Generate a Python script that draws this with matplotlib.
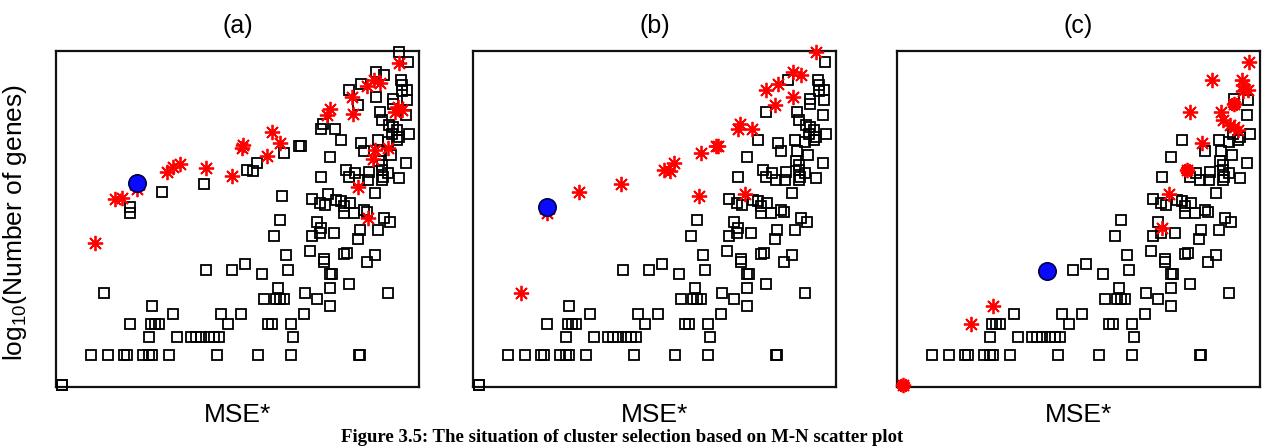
import numpy as np
import matplotlib
matplotlib.use("Agg")
import matplotlib.pyplot as plt

plt.rcParams['font.family'] = ['Liberation Sans', 'DejaVu Sans']
plt.rcParams['mathtext.fontset'] = 'custom'
plt.rcParams['mathtext.rm'] = 'Liberation Sans'
plt.rcParams['mathtext.it'] = 'Liberation Sans'
plt.rcParams['mathtext.default'] = 'regular'

# ---------------- data: MSE* (x) and log10(number of genes) (y) ----------------
# clusters shown as squares in every panel
base_x = [0.0, 0.0,
          0.081, 0.130, 0.174, 0.181, 0.227, 0.244, 0.253, 0.300, 0.435, 0.549, 0.640, 0.832, 0.836,
          0.244, 0.323, 0.360, 0.374, 0.388, 0.412, 0.426, 0.439, 0.646,
          0.190, 0.249, 0.260, 0.272, 0.465, 0.577, 0.587, 0.640,
          0.312, 0.446, 0.501, 0.677,
          0.251, 0.751,
          0.567, 0.598, 0.610, 0.622, 0.714,
          0.682, 0.914,
          0.604, 0.751,
          0.805,
          0.561, 0.751, 0.755,
          0.402, 0.475, 0.633,
          0.512,
          0.733, 0.734, 0.854,
          0.628, 0.789, 0.798, 0.877,
          0.696, 0.829, 0.593, 0.700, 0.722, 0.763, 0.835, 0.884, 0.725,
          0.714, 0.919, 0.610, 0.902,
          0.791, 0.818, 0.846, 0.854,
          0.737, 0.789, 0.722, 0.807, 0.782, 0.768, 0.700, 0.877,
          0.726, 0.795, 0.804, 0.821, 0.831, 0.857, 0.861, 0.896, 0.900, 0.914, 0.896, 0.945,
          0.750, 0.921, 0.889, 0.964, 0.896,
          0.847, 0.891,
          0.782, 0.838, 0.886, 0.912, 0.938,
          0.924, 0.973, 0.944, 0.938, 0.928, 0.916, 0.896,
          0.805, 0.891, 0.964,
          0.926, 0.926, 0.967,
          0.952, 0.966, 0.953, 0.950, 0.865,
          0.968]
base_y = [0.0, 0.0,
          0.301, 0.301, 0.301, 0.301, 0.301, 0.301, 0.301, 0.301, 0.301, 0.301, 0.301, 0.301, 0.301,
          0.477, 0.477, 0.477, 0.477, 0.477, 0.477, 0.477, 0.477, 0.477,
          0.602, 0.602, 0.602, 0.602, 0.602, 0.602, 0.602, 0.602,
          0.699, 0.699, 0.699, 0.699,
          0.778, 0.778,
          0.845, 0.845, 0.845, 0.845, 0.845,
          0.903, 0.903,
          0.954, 0.954,
          1.000,
          1.095, 1.095, 1.095,
          1.134, 1.134, 1.134,
          1.190,
          1.216, 1.239, 1.216,
          1.281, 1.291, 1.297, 1.281,
          1.324, 1.435, 1.467, 1.467, 1.493, 1.493, 1.526, 1.526, 1.542,
          1.601, 1.601, 1.624, 1.641,
          1.690, 1.690, 1.722, 1.706,
          1.771, 1.761, 1.788, 1.794, 1.810, 1.820, 1.830, 1.886,
          2.049, 2.114, 2.049, 2.082, 2.016, 2.016, 2.098, 2.114, 2.049, 2.082, 2.016, 2.033,
          2.239, 2.261, 2.206, 2.180, 2.163,
          2.301, 2.301,
          2.408, 2.386, 2.408, 2.392, 2.408,
          2.474, 2.474, 2.441, 2.507, 2.539, 2.556, 2.605,
          2.686, 2.686, 2.660,
          2.761, 2.817, 2.807,
          2.892, 2.899, 2.948, 3.003, 2.997,
          3.176]

# panel (b): selected clusters (asterisks) and current cluster (circle)
b_star_x = [0.118, 0.191, 0.281, 0.398, 0.517, 0.535, 0.547, 0.621, 0.663, 0.669, 0.615,
            0.745, 0.726, 0.731, 0.766, 0.805, 0.829, 0.838, 0.880, 0.880, 0.903, 0.945]
b_star_y = [0.905, 1.690, 1.895, 1.977, 2.114, 2.108, 2.180, 2.278, 2.356, 2.356, 1.860,
            1.876, 2.516, 2.572, 2.516, 2.899, 2.752, 2.964, 2.833, 3.078, 3.046, 3.275]
b_circle_x = [0.191]
b_circle_y = [1.755]

# panel (a)
a_star_x = [0.093, 0.149, 0.168, 0.210, 0.294, 0.312, 0.331, 0.404, 0.477, 0.503, 0.506,
            0.573, 0.587, 0.610, 0.944, 0.873, 0.853, 0.890, 0.811, 0.815, 0.750, 0.743,
            0.941, 0.932, 0.951, 0.876, 0.871, 0.913, 0.829, 0.857]
a_star_y = [1.394, 1.831, 1.838, 1.930, 2.101, 2.144, 2.177, 2.138, 2.061, 2.334, 2.357,
            2.252, 2.489, 2.384, 3.169, 2.998, 2.939, 2.972, 2.834, 2.663, 2.719, 2.653,
            2.735, 2.686, 2.702, 2.308, 2.226, 2.334, 1.953, 1.644]
a_circle_x = [0.210]
a_circle_y = [1.989]

# panel (c)
c_star_x = [0.0, 0.189, 0.251, 0.725, 0.745, 0.795, 0.838, 0.805, 0.865, 0.968, 0.950,
            0.953, 0.966, 0.952, 0.926, 0.891, 0.896, 0.916, 0.928, 0.938]
c_star_y = [0.0, 0.602, 0.778, 1.542, 1.876, 2.114, 2.386, 2.686, 2.997, 3.176, 3.003,
            2.948, 2.899, 2.892, 2.761, 2.686, 2.605, 2.556, 2.539, 2.507]
c_blob_x = [0.0, 0.795, 0.926]
c_blob_y = [0.0, 2.114, 2.761]
c_circle_x = [0.404]
c_circle_y = [1.127]

panel_titles = ['(a)', '(b)', '(c)']
x_label = 'MSE*'
y_label = r'log$_{10}$(Number of genes)'
caption = 'Figure 3.5: The situation of cluster selection based on M-N scatter plot'

XLIM = (-0.017, 1.0)
YLIM = (-0.016, 3.28)

# ---------------- figure ----------------
W, H = 1266, 448
fig = plt.figure(figsize=(W / 100, H / 100), dpi=100)

lefts = [56 / W, 473 / W, 897 / W]
ax_w = 363 / W
ax_b = 1 - 387 / H
ax_h = (387 - 51.5) / H

panels = [
    dict(sq_x=base_x + b_star_x + b_circle_x, sq_y=base_y + b_star_y + b_circle_y,
         st_x=a_star_x, st_y=a_star_y, bl_x=[], bl_y=[], ci_x=a_circle_x, ci_y=a_circle_y),
    dict(sq_x=base_x, sq_y=base_y,
         st_x=b_star_x, st_y=b_star_y, bl_x=[], bl_y=[], ci_x=b_circle_x, ci_y=b_circle_y),
    dict(sq_x=base_x, sq_y=base_y,
         st_x=c_star_x, st_y=c_star_y, bl_x=c_blob_x, bl_y=c_blob_y, ci_x=c_circle_x, ci_y=c_circle_y),
]

px_per_x = 363 / (XLIM[1] - XLIM[0])
px_per_y = 335.5 / (YLIM[1] - YLIM[0])

for i, p in enumerate(panels):
    ax = fig.add_axes([lefts[i], ax_b, ax_w, ax_h])
    sx = np.array(p['sq_x']); sy = np.array(p['sq_y'])
    hx = np.array(p['st_x'] + p['ci_x']); hy = np.array(p['st_y'] + p['ci_y'])
    # clusters that are highlighted are not drawn as squares
    d = np.sqrt(((sx[:, None] - hx[None, :]) * px_per_x) ** 2 +
                ((sy[:, None] - hy[None, :]) * px_per_y) ** 2)
    keep = d.min(axis=1) > 4.5
    ax.plot(sx[keep], sy[keep], linestyle='none', marker='s', ms=6.7, mew=1.3,
            mfc='none', mec='black', zorder=3, clip_on=False)
    ax.plot(p['st_x'], p['st_y'], linestyle='none', marker=(8, 2, 0), ms=11, mew=1.3,
            color='#ff0000', zorder=4, clip_on=False)
    if p['bl_x']:
        ax.plot(p['bl_x'], p['bl_y'], linestyle='none', marker='o', ms=6, mew=0,
                color='#ff0000', zorder=4, clip_on=False)
        ax.plot(p['bl_x'], p['bl_y'], linestyle='none', marker=(8, 2, 22.5), ms=10, mew=1.3,
                color='#ff0000', zorder=4, clip_on=False)
    ax.plot(p['ci_x'], p['ci_y'], linestyle='none', marker='o', ms=12.5, mew=1.2,
            mfc='#0a0aff', mec='#00004a', zorder=5, clip_on=False)
    ax.set_xlim(*XLIM)
    ax.set_ylim(*YLIM)
    ax.set_xticks([]); ax.set_yticks([])
    for s in ax.spines.values():
        s.set_linewidth(1.6)
        s.set_color('#111111')
    cx = lefts[i] + ax_w / 2
    fig.text(cx, 1 - 26 / H, panel_titles[i], ha='center', va='center', fontsize=18)
    fig.text(cx, 1 - 415 / H, x_label, ha='center', va='center', fontsize=19)

fig.text(15 / W, 1 - 222 / H, y_label, rotation=90, ha='center', va='center', fontsize=19)
fig.text(622 / W, 2 / H, caption, ha='center', va='bottom', fontsize=13.5,
         fontweight='bold', family=['Liberation Serif', 'DejaVu Serif'])

fig.savefig('out.png', dpi=100)
